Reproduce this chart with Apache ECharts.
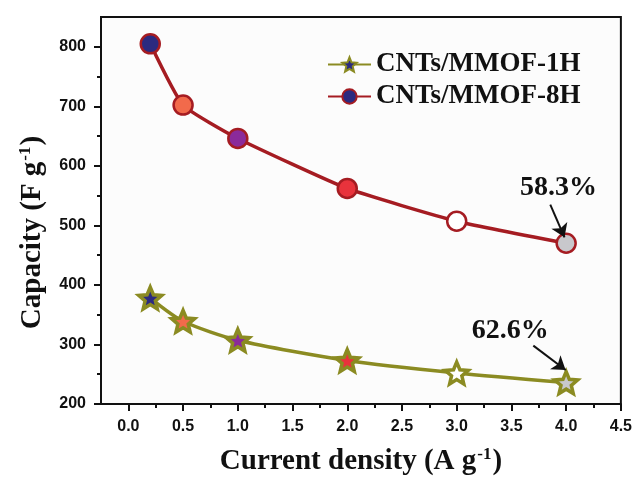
<!DOCTYPE html>
<html>
<head>
<meta charset="utf-8">
<script src="https://cdn.jsdelivr.net/npm/echarts@6/dist/echarts.min.js"></script>
<style>html,body{margin:0;padding:0;background:#fff}#c{width:635px;height:482px}</style>
</head>
<body>
<div id="c"></div>
<script>
// ---- data ----
var currentDensity = [0.2, 0.5, 1.0, 2.0, 3.0, 4.0];
var cap1H = [378, 339, 307, 273, 252, 236];
var cap8H = [805, 702, 646, 562, 507, 470];
var seriesNames = ['CNTs/MMOF-1H', 'CNTs/MMOF-8H'];
var xTickLabels = [0, 0.5, 1.0, 1.5, 2.0, 2.5, 3.0, 3.5, 4.0, 4.5];
var xMinorTicks = [0.25, 0.75, 1.25, 1.75, 2.25, 2.75, 3.25, 3.75, 4.25];
var yTickLabels = [200, 300, 400, 500, 600, 700, 800];
var yMinorTicks = [250, 350, 450, 550, 650, 750];
var retention8H = '58.3%';
var retention1H = '62.6%';
// annotation anchors in data units
var note8HText = [3.93, 563];
var note8HArrow = [[3.855, 535], [3.985, 480]];
var note1HText = [3.49, 323];
var note1HArrow = [[3.70, 298], [3.995, 257]];

// ---- styles ----
var markerFills = ['#2b2a80', '#f26a4b', '#8b2a9a', '#e8333c', '#ffffff', '#c8c8cc'];
var col8H = '#a51c22';
var col1H = '#8b8b22';
var serif = '"Liberation Serif","Times New Roman",serif';
var sans = '"Liberation Sans",Arial,sans-serif';
var starPath = 'path://M50 0 L63.2 31.8 L97.6 34.5 L71.4 57 L79.4 90.5 L50 72.5 L20.6 90.5 L28.6 57 L2.4 34.5 L36.8 31.8 Z';

function pts(vals) {
  return currentDensity.map(function (x, i) {
    return { value: [x, vals[i]], itemStyle: { color: markerFills[i] } };
  });
}

var titleRich = {
  t: { fontFamily: serif, fontWeight: 'bold', fontSize: 29, color: '#111' },
  sup: { fontFamily: serif, fontWeight: 'bold', fontSize: 17, color: '#111', verticalAlign: 'top', padding: [0, 1, 14, 1] }
};

var chart = echarts.init(document.getElementById('c'));
chart.setOption({
  animation: false,
  backgroundColor: '#ffffff',
  grid: { left: 101, right: 13, top: 17, bottom: 78, show: true, borderColor: '#111', borderWidth: 2, backgroundColor: '#fcfcfc' },
  legend: {
    orient: 'vertical', left: 322, top: 46, itemGap: 5, itemWidth: 43, itemHeight: 18,
    textStyle: { fontFamily: serif, fontWeight: 'bold', fontSize: 27, color: '#111', lineHeight: 26 },
    data: seriesNames
  },
  xAxis: [{
    type: 'value', min: -0.25, max: 4.5,
    name: '{t|Current density (A g}{sup|-1}{t|)}',
    nameLocation: 'middle', nameGap: 42,
    nameTextStyle: { rich: titleRich },
    axisLine: { show: true, onZero: false, lineStyle: { color: '#111', width: 2 } },
    axisTick: { show: true, inside: false, length: 7, lineStyle: { color: '#111', width: 2 }, customValues: xTickLabels },
    axisLabel: { show: true, customValues: xTickLabels, margin: 15, fontFamily: sans, fontWeight: 'bold', fontSize: 16, color: '#111',
      formatter: function (v) { return v.toFixed(1); } },
    splitLine: { show: false }
  }, {
    type: 'value', min: -0.25, max: 4.5, position: 'bottom',
    axisLine: { show: false, onZero: false },
    axisTick: { show: true, length: 4, lineStyle: { color: '#111', width: 2 }, customValues: xMinorTicks },
    axisLabel: { show: false },
    splitLine: { show: false }
  }],
  yAxis: [{
    type: 'value', min: 200, max: 850,
    name: '{t|Capacity (F g}{sup|-1}{t|)}',
    nameLocation: 'middle', nameGap: 53, nameRotate: 90,
    nameTextStyle: { rich: titleRich, padding: [0, 44, 0, 0] },
    axisLine: { show: true, onZero: false, lineStyle: { color: '#111', width: 2 } },
    axisTick: { show: true, length: 7, lineStyle: { color: '#111', width: 2 }, customValues: yTickLabels },
    axisLabel: { show: true, customValues: yTickLabels, margin: 15, fontFamily: sans, fontWeight: 'bold', fontSize: 16, color: '#111' },
    splitLine: { show: false }
  }, {
    type: 'value', min: 200, max: 850, position: 'left',
    axisLine: { show: false, onZero: false },
    axisTick: { show: true, length: 4, lineStyle: { color: '#111', width: 2 }, customValues: yMinorTicks },
    axisLabel: { show: false },
    splitLine: { show: false }
  }],
  series: [{
    name: seriesNames[0], type: 'line', smooth: 0.25,
    data: pts(cap1H),
    symbol: starPath, symbolKeepAspect: true, symbolSize: 23,
    lineStyle: { color: col1H, width: 3.5 },
    itemStyle: { color: '#2b2a80', borderColor: col1H, borderWidth: 3.5 },
    z: 3,
    markPoint: {
      silent: true, symbol: 'rect', symbolSize: 1, itemStyle: { color: 'rgba(0,0,0,0)' },
      label: { show: true, position: 'inside', color: '#111', fontFamily: serif, fontWeight: 'bold', fontSize: 28 },
      data: [{ coord: note1HText, value: retention1H, label: { formatter: retention1H } }]
    },
    markLine: {
      silent: true, symbol: ['none', 'arrow'], symbolSize: 13,
      lineStyle: { color: '#111', width: 2, type: 'solid' }, label: { show: false },
      data: [[{ coord: note1HArrow[0] }, { coord: note1HArrow[1] }]]
    }
  }, {
    name: seriesNames[1], type: 'line', smooth: 0.15,
    data: pts(cap8H),
    symbol: 'circle', symbolSize: 19,
    lineStyle: { color: col8H, width: 3.5 },
    itemStyle: { color: '#2b2a80', borderColor: col8H, borderWidth: 2.5 },
    z: 3,
    markPoint: {
      silent: true, symbol: 'rect', symbolSize: 1, itemStyle: { color: 'rgba(0,0,0,0)' },
      label: { show: true, position: 'inside', color: '#111', fontFamily: serif, fontWeight: 'bold', fontSize: 28 },
      data: [{ coord: note8HText, value: retention8H, label: { formatter: retention8H } }]
    },
    markLine: {
      silent: true, symbol: ['none', 'arrow'], symbolSize: 13,
      lineStyle: { color: '#111', width: 2, type: 'solid' }, label: { show: false },
      data: [[{ coord: note8HArrow[0] }, { coord: note8HArrow[1] }]]
    }
  }]
});
</script>
</body>
</html>
